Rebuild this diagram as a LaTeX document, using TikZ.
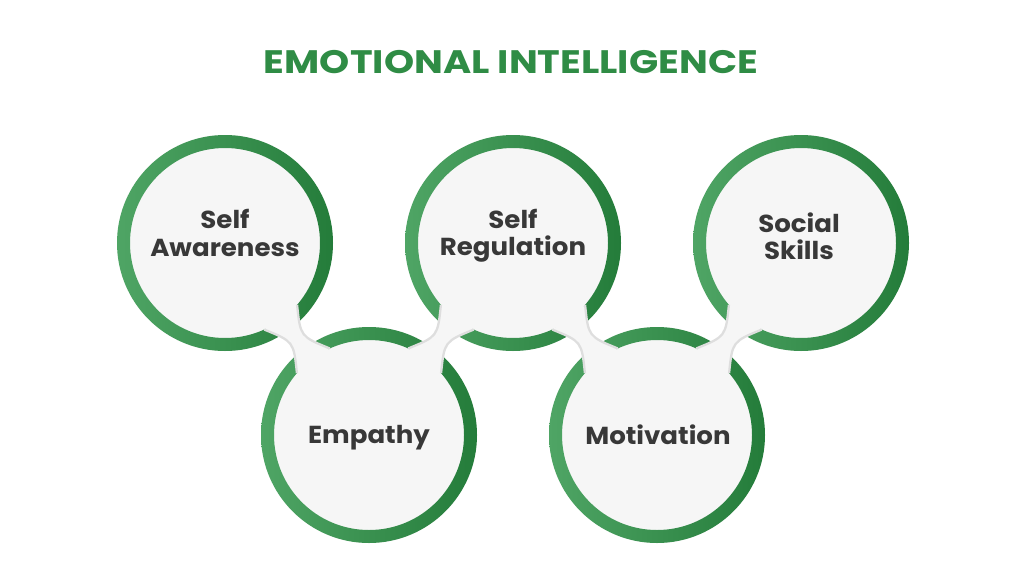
\documentclass[tikz,border=0pt]{standalone}
\usepackage{fontspec}
\setmainfont{Poppins}
\newfontfamily\titlefont{Poppins}[FakeStretch=1.18]
\newfontfamily\labelfont{Poppins}[FakeStretch=1.06]
\usetikzlibrary{calc}

\definecolor{ringlight}{HTML}{4FA565}
\definecolor{ringdark}{HTML}{247C3A}
\definecolor{titlegreen}{HTML}{2F8C45}
\definecolor{textgray}{HTML}{383838}
\definecolor{bodygray}{HTML}{F6F6F6}

% bridge between two circles, cutting both rings: first, second, direction
\newcommand\neck[3]{
	\fill[bodyfill] ($(#1)+(#3+12.5:95)$) .. controls ($(#1)!.5!(#2)+(#3+90:4.2)$) .. ($(#2)+(#3+167.5:95)$)
		-- ($(#2)+(#3+192.5:95)$) .. controls ($(#1)!.5!(#2)+(#3-90:4.2)$) .. ($(#1)+(#3-12.5:95)$) -- cycle;
	\draw[neckline] ($(#1)+(#3+12.5:95)$) .. controls ($(#1)!.5!(#2)+(#3+90:4.2)$) .. ($(#2)+(#3+167.5:95)$);
	\draw[neckline] ($(#2)+(#3+192.5:95)$) .. controls ($(#1)!.5!(#2)+(#3-90:4.2)$) .. ($(#1)+(#3-12.5:95)$);
}

\begin{document}
\begin{tikzpicture}[x=0.02cm, y=0.02cm,
		bodyfill/.style={fill=bodygray},
		neckline/.style={draw=black!13, line width=1.3pt},
		ringshade/.style={left color=ringlight, right color=ringdark, even odd rule},
		label/.style={text=textgray, align=center, font=\labelfont\bfseries\fontsize{14}{15.5}\selectfont}]
	\useasboundingbox[fill=white] (0,0) rectangle (1024,576);

	\coordinate (sa) at (225,333);
	\coordinate (sr) at (513,333);
	\coordinate (ss) at (801,333);
	\coordinate (emp) at (369,141);
	\coordinate (mot) at (657,141);

	\node[text=titlegreen, font=\titlefont\bfseries\fontsize{18.5}{20}\selectfont] (title) at (511,514) {EMOTIONAL INTELLIGENCE};

	% circles with rings
	\foreach \c in {sa,sr,ss,emp,mot} {
		\fill[bodyfill] (\c) circle[radius=108];
		\shade[ringshade] (\c) circle[radius=108] (\c) circle[radius=95];
	}
	\neck{sa}{emp}{-53.13}
	\neck{emp}{sr}{53.13}
	\neck{sr}{mot}{-53.13}
	\neck{mot}{ss}{53.13}

	\node[label] (satext) at (225,343) {Self\\Awareness};
	\node[label] (srtext) at (513,340) {Self\\Regulation};
	\node[label] (sstext) at (799,340) {Social\\Skills};
	\node[label] (emptext) at (369,138) {Empathy};
	\node[label] (mottext) at (658,141) {Motivation};
\end{tikzpicture}
\end{document}
